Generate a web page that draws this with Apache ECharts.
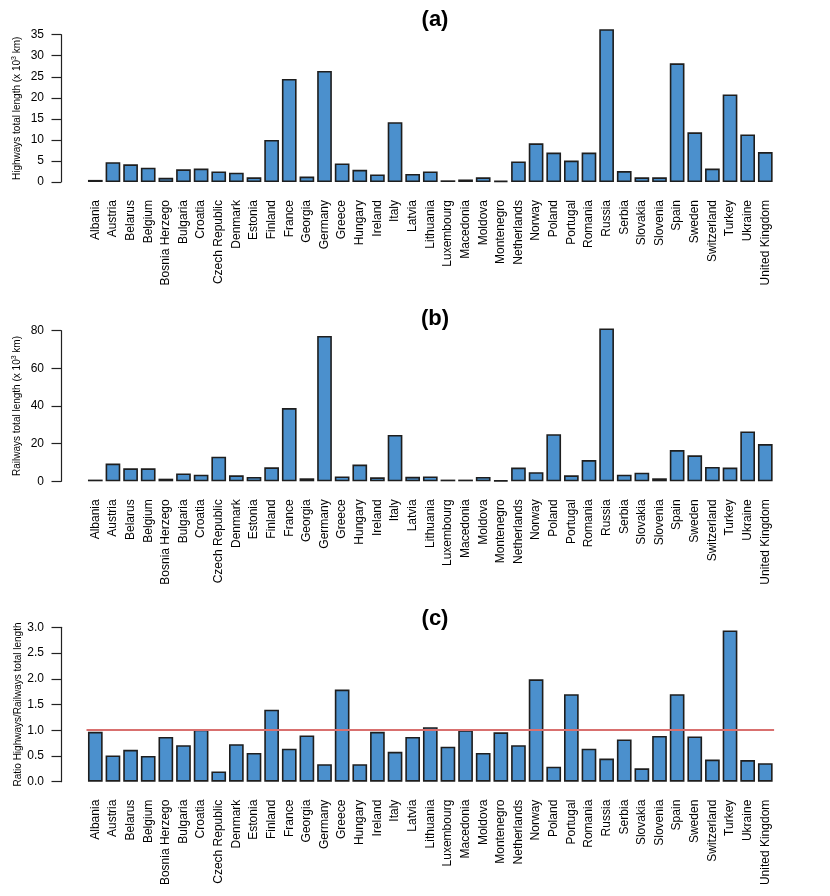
<!DOCTYPE html>
<html>
<head>
<meta charset="utf-8">
<script src="https://cdn.jsdelivr.net/npm/echarts@6/dist/echarts.min.js"></script>
<style>
  html, body { margin: 0; padding: 0; background: #fff; }
  #chart { width: 830px; height: 896px; }
</style>
</head>
<body>
<div id="chart"></div>
<script>
// countries, in plot order
var countries = ['Albania', 'Austria', 'Belarus', 'Belgium', 'Bosnia Herzego', 'Bulgaria', 'Croatia',
  'Czech Republic', 'Denmark', 'Estonia', 'Finland', 'France', 'Georgia', 'Germany', 'Greece',
  'Hungary', 'Ireland', 'Italy', 'Latvia', 'Lithuania', 'Luxembourg', 'Macedonia', 'Moldova',
  'Montenegro', 'Netherlands', 'Norway', 'Poland', 'Portugal', 'Romania', 'Russia', 'Serbia',
  'Slovakia', 'Slovenia', 'Spain', 'Sweden', 'Switzerland', 'Turkey', 'Ukraine', 'United Kingdom'];

// (a) highways, x 10^3 km
var highways = [0.5, 4.7, 4.2, 3.4, 1.0, 3.0, 3.2, 2.5, 2.2, 1.1, 10.0, 24.5, 1.3, 26.4, 4.4,
  2.9, 1.8, 14.2, 1.9, 2.5, 0.4, 0.6, 1.1, 0.3, 4.9, 9.2, 7.0, 5.1, 7.0, 36.3, 2.6,
  1.1, 1.1, 28.2, 11.8, 3.2, 20.8, 11.3, 7.1];

// (b) railways, x 10^3 km
var railways = [0.9, 9.4, 6.9, 6.9, 1.4, 4.2, 3.5, 13.1, 3.2, 2.3, 7.4, 38.9, 1.6, 77.2, 2.6,
  8.9, 2.1, 24.6, 2.4, 2.6, 0.9, 0.9, 2.3, 0.5, 7.3, 4.8, 25.0, 3.2, 11.3, 81.2, 3.5,
  4.6, 1.6, 16.6, 13.8, 7.6, 7.3, 26.5, 19.8];

// (c) ratio highways / railways
var ratio = [0.97, 0.51, 0.62, 0.50, 0.87, 0.71, 1.01, 0.20, 0.73, 0.56, 1.40, 0.64, 0.90, 0.34, 1.79,
  0.34, 0.97, 0.58, 0.87, 1.06, 0.68, 1.00, 0.56, 0.96, 0.71, 1.99, 0.29, 1.70, 0.64, 0.45, 0.82,
  0.26, 0.89, 1.70, 0.88, 0.43, 2.94, 0.42, 0.36];

var titles = ['(a)', '(b)', '(c)'];
var yNames = ['{t|Highways total length (x 10}{s|3}{t| km)}', '{t|Railways total length (x 10}{s|3}{t| km)}',
  '{t|Ratio Highways/Railways total length}'];

var FONT = '"Liberation Sans", Arial, Helvetica, sans-serif';
var barFill = '#4b90cd';
var barEdge = '#1e1e1e';

// pixel rows of each panel: top = y of axis max, bottom = y of 0
var panels = [
  { top: 34.7, zero: 182, max: 35, interval: 5, dec: 0, data: highways, titleTop: 4 },
  { top: 330.7, zero: 481.3, max: 80, interval: 20, dec: 0, data: railways, titleTop: 303 },
  { top: 627.3, zero: 781.7, max: 3, interval: 0.5, dec: 1, data: ratio, titleTop: 603 }
];

var grids = [], xAxes = [], yAxes = [], series = [], title = [];

panels.forEach(function (p, i) {
  grids.push({ left: 86.5, right: 55.9, top: p.top, bottom: 896 - p.zero, outerBoundsMode: 'none' });
  title.push({
    text: titles[i], left: 430, top: p.titleTop, textAlign: 'center',
    textStyle: { fontFamily: FONT, fontSize: 22, fontWeight: 'bold', color: '#000' }
  });
  xAxes.push({
    type: 'category', gridIndex: i, data: countries,
    axisLine: { show: false }, axisTick: { show: false },
    axisLabel: { rotate: 90, interval: 0, margin: 18, fontFamily: FONT, fontSize: 12, color: '#000' }
  });
  yAxes.push({
    type: 'value', gridIndex: i, min: 0, max: p.max, interval: p.interval, offset: 25.5,
    name: yNames[i], nameLocation: 'middle', nameGap: 38, nameMoveOverlap: false,
    nameTextStyle: {
      fontFamily: FONT, fontSize: 10, color: '#000',
      rich: {
        t: { fontFamily: FONT, fontSize: 10, color: '#000' },
        s: { fontFamily: FONT, fontSize: 7, color: '#000', padding: [0, 0, 5, 0] }
      }
    },
    splitLine: { show: false },
    axisLine: { show: true, lineStyle: { color: '#222', width: 1.2 } },
    axisTick: { show: true, length: 9.5, lineStyle: { color: '#222', width: 1.2 } },
    axisLabel: {
      margin: 17, fontFamily: FONT, fontSize: 12, color: '#000',
      formatter: function (v) { return v.toFixed(p.dec); }
    }
  });
  var s = {
    type: 'bar', xAxisIndex: i, yAxisIndex: i, data: p.data, barWidth: 14.7, clip: false,
    itemStyle: { color: barFill, borderColor: barEdge, borderWidth: 1.6 },
    silent: true
  };
  if (i === 2) {
    s.markLine = {
      silent: true, symbol: 'none', label: { show: false },
      lineStyle: { color: '#d9706f', width: 2.2, type: 'solid' },
      data: [{ yAxis: 1 }]
    };
  }
  series.push(s);
});

var myChart = echarts.init(document.getElementById('chart'));
myChart.setOption({
  animation: false,
  backgroundColor: '#fff',
  title: title,
  grid: grids,
  xAxis: xAxes,
  yAxis: yAxes,
  series: series
});
</script>
</body>
</html>
